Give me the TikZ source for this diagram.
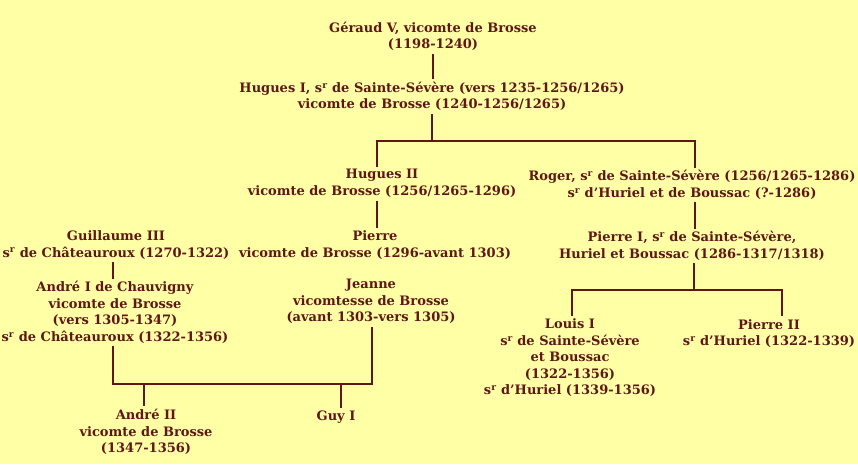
\documentclass[tikz,border=0pt]{standalone}
\usepackage{fontspec}
\setmainfont{DejaVu Serif}
\definecolor{bg}{RGB}{255,255,165}
\definecolor{ink}{RGB}{95,22,20}
\newcommand{\sr}{s\textsuperscript{r}}
\begin{document}
\begin{tikzpicture}[x=1pt,y=-1pt,
  person/.style={align=center, text=ink, font=\bfseries\fontsize{13}{16.5}\selectfont, inner sep=0pt, outer ysep=3pt},
  link/.style={draw=ink, line width=1.2pt}]
\fill[bg] (0,0) rectangle (858,464);
\useasboundingbox (0,0) rectangle (858,464);
\node[person] (ger) at (433,36.5) {Géraud V, vicomte de Brosse\\(1198-1240)};
\node[person] (hug1) at (432,96.5) {Hugues I, \sr{} de Sainte-Sévère (vers 1235-1256/1265)\\vicomte de Brosse (1240-1256/1265)};
\node[person] (hug2) at (382,183.5) {Hugues II\\vicomte de Brosse (1256/1265-1296)};
\node[person] (roger) at (692,185) {Roger, \sr{} de Sainte-Sévère (1256/1265-1286)\\\sr{} d'Huriel et de Boussac (?-1286)};
\node[person] (pierre) at (375,245) {Pierre\\vicomte de Brosse (1296-avant 1303)};
\node[person] (guil) at (116,245) {Guillaume III\\\sr{} de Châteauroux (1270-1322)};
\node[person] (pierre1) at (692,246) {Pierre I, \sr{} de Sainte-Sévère,\\Huriel et Boussac (1286-1317/1318)};
\node[person] (andre1) at (115,312.5) {André I de Chauvigny\\vicomte de Brosse\\(vers 1305-1347)\\\sr{} de Châteauroux (1322-1356)};
\node[person] (jeanne) at (371,301.5) {Jeanne\\vicomtesse de Brosse\\(avant 1303-vers 1305)};
\node[person] (louis) at (570,358) {Louis I\\\sr{} de Sainte-Sévère\\et Boussac\\(1322-1356)\\\sr{} d'Huriel (1339-1356)};
\node[person] (pierre2) at (769,333.5) {Pierre II\\\sr{} d'Huriel (1322-1339)};
\node[person] (andre2) at (146,432) {André II\\vicomte de Brosse\\(1347-1356)};
\node[person] (guy) at (336,417) {Guy I};
% junctions
\coordinate (j1) at (432,141);
\coordinate (j1l) at (377,141);
\coordinate (j1r) at (695,141);
\coordinate (j2) at (694,290);
\coordinate (j2l) at (572,290);
\coordinate (j2r) at (782,290);
\coordinate (j3l) at (113,384);
\coordinate (j3r) at (372,384);
\coordinate (j3a) at (144,384);
\coordinate (j3g) at (341,384);
\draw[link] (ger.south) -- (ger.south |- hug1.north);
\draw[link] (hug1.south -| j1) -- (j1);
\draw[link] (j1l |- hug2.north) -- (j1l) -- (j1r) -- (j1r |- roger.north);
\draw[link] (j1l |- hug2.south) -- (j1l |- pierre.north);
\draw[link] (j1r |- roger.south) -- (j1r |- pierre1.north);
\draw[link] (j2 |- pierre1.south) -- (j2);
\draw[link] (j2l |- louis.north) -- (j2l) -- (j2r) -- (j2r |- pierre2.north);
\draw[link] (j3l |- guil.south) -- (j3l |- andre1.north);
\draw[link] (j3l |- andre1.south) -- (j3l) -- (j3r) -- (j3r |- jeanne.south);
\draw[link] (j3a) -- (j3a |- andre2.north);
\draw[link] (j3g) -- (j3g |- guy.north);
\end{tikzpicture}
\end{document}
